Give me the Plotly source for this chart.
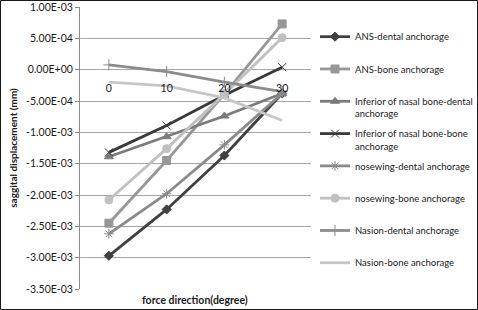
import plotly.graph_objects as go

categories = ["0", "10", "20", "30"]

series_names = [
    "ANS-dental anchorage",
    "ANS-bone anchorage",
    "Inferior of nasal bone-dental<br>anchorage",
    "Inferior of nasal bone-bone<br>anchorage",
    "nosewing-dental anchorage",
    "nosewing-bone anchorage",
    "Nasion-dental anchorage",
    "Nasion-bone anchorage",
]

ans_dental = [-2.97e-3, -2.23e-3, -1.37e-3, -3.8e-4]
ans_bone = [-2.45e-3, -1.45e-3, -3.9e-4, 7.3e-4]
inf_dental = [-1.39e-3, -1.07e-3, -7.4e-4, -3.8e-4]
inf_bone = [-1.32e-3, -8.9e-4, -4.1e-4, 4.0e-5]
nose_dental = [-2.62e-3, -1.98e-3, -1.20e-3, -3.8e-4]
nose_bone = [-2.08e-3, -1.26e-3, -3.9e-4, 5.1e-4]
nasion_dental = [7.6e-5, -3.0e-5, -2.0e-4, -3.5e-4]
nasion_bone = [-2.0e-4, -2.6e-4, -4.5e-4, -8.1e-4]

y_tick_vals = [1e-3, 5e-4, 0, -5e-4, -1e-3, -1.5e-3, -2e-3, -2.5e-3, -3e-3, -3.5e-3]
y_tick_text = ["1.00E-03", "5.00E-04", "0.00E+00", "-5.00E-04", "-1.00E-03",
               "-1.50E-03", "-2.00E-03", "-2.50E-03", "-3.00E-03", "-3.50E-03"]

all_values = [ans_dental, ans_bone, inf_dental, inf_bone,
              nose_dental, nose_bone, nasion_dental, nasion_bone]
colors = ["#404040", "#979797", "#7b7b7b", "#3a3a3a",
          "#8a8a8a", "#c0c0c0", "#8c8c8c", "#c6c6c6"]
symbols = ["diamond", "square", "triangle-up", "x-thin-open",
           "asterisk-open", "circle", "cross-thin-open", None]
sizes = [7, 8, 8, 8, 8, 8, 8, 0]

FONT = "Lato"

fig = go.Figure()
for name, vals, c, s, sz in zip(series_names, all_values, colors, symbols, sizes):
    label = name if "<br>" in name else name + "<br> "
    mk = dict(color=c, size=sz, line=dict(color=c, width=1))
    if s is None:
        mode = "lines"
        mk = None
    else:
        mode = "lines+markers"
        mk["symbol"] = s
    fig.add_trace(go.Scatter(
        x=categories, y=vals, name=label, mode=mode,
        line=dict(color=c, width=2.8), marker=mk, legendgroup=name,
    ))

W, H = 478, 310
L, R, T, B = 80, 167, 7, 21
pw, ph = W - L - R, H - T - B
ymin, ymax = -3.5e-3, 1e-3

fig.update_layout(
    width=W, height=H,
    margin=dict(l=L, r=R, t=T, b=B, autoexpand=False),
    paper_bgcolor="white", plot_bgcolor="white",
    font=dict(family=FONT, size=10, color="#1a1a1a"),
    showlegend=True,
    legend=dict(
        x=(315 - L) / pw, xanchor="left", y=1 - (24 - T) / ph, yanchor="top",
        font=dict(family=FONT, size=9.5, color="#1a1a1a"),
        tracegroupgap=4.6, valign="top", itemwidth=30,
        bgcolor="rgba(0,0,0,0)",
    ),
    xaxis=dict(
        type="category", range=[-0.5, 3.5], automargin=False,
        anchor="free", position=(0 - ymin) / (ymax - ymin),
        showgrid=False, showline=False, ticks="",
        tickfont=dict(family=FONT, size=10.5, color="#1a1a1a"),
        ticklabelstandoff=11,
    ),
    yaxis=dict(
        range=[ymin, ymax], tickvals=y_tick_vals, ticktext=y_tick_text,
        automargin=False,
        showgrid=True, gridcolor="#a6a6a6", gridwidth=1,
        zeroline=True, zerolinecolor="#a6a6a6", zerolinewidth=1,
        showline=True, linecolor="#8c8c8c", linewidth=1,
        ticks="outside", ticklen=4, tickcolor="#8c8c8c",
        tickfont=dict(family=FONT, size=10.5, color="#1a1a1a"),
        title=dict(text="<b>saggital displacement (mm)</b>",
                   font=dict(family=FONT, size=10), standoff=6),
    ),
    annotations=[dict(
        text="<b>force direction(degree)</b>", xref="paper", yref="paper",
        x=(195 - L) / pw, y=-(300 - T - ph) / ph, xanchor="center", yanchor="middle",
        showarrow=False, font=dict(family=FONT, size=10.5, color="#1a1a1a"),
    )],
    shapes=[dict(
        type="rect", xref="paper", yref="paper",
        x0=-(L - 0.5) / pw, x1=(W - L - 0.5) / pw,
        y0=-(B - 0.5) / ph, y1=1 + (T - 0.5) / ph,
        line=dict(color="#1a1a1a", width=1), layer="above",
    )],
)

fig.write_html("out.html")
